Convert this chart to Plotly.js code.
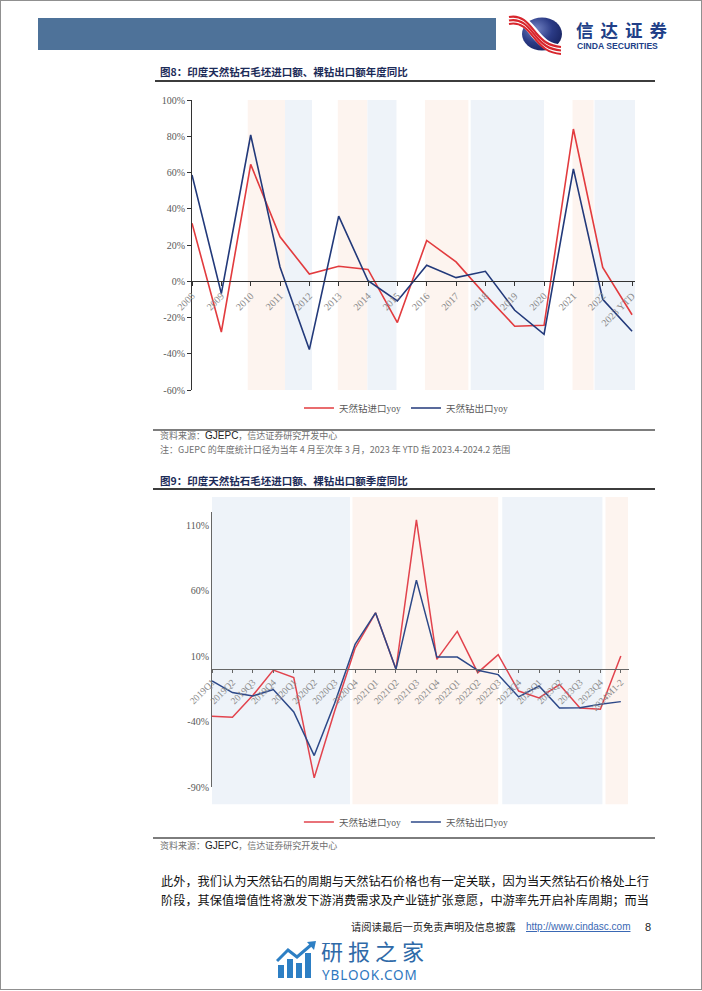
<!DOCTYPE html>
<html>
<head>
<meta charset="utf-8">
<script src="https://cdn.plot.ly/plotly-3.0.1.min.js"></script>
<style>
  html, body { margin:0; padding:0; background:#fff; }
  body { width:702px; height:991px; position:relative; overflow:hidden; font-family:"Noto Sans CJK SC", sans-serif; }
  .abs { position:absolute; white-space:nowrap; line-height:1; }
  .frame { position:absolute; left:0; top:0; width:702px; height:990px; box-sizing:border-box; border:1.5px solid #909090; }
  .hbar { position:absolute; left:38px; top:18px; width:458px; height:32px; background:#4e7299; }
  .ftitle { font-size:10.5px; font-weight:700; color:#1c2b58; }
  .rule { position:absolute; height:1.5px; background:#3c3c3c; }
  .sep { position:absolute; height:2px; background:#7d7d7d; }
  .src { font-size:9px; color:#707070; }
  .src b { font-family:"Liberation Sans", sans-serif; color:#222; font-weight:400; font-size:10px; }
  .para { font-size:12.2px; color:#111; width:488px; line-height:19px; text-align:justify; white-space:normal; text-align-last:justify; }
  #c1 { position:absolute; left:150px; top:85px; width:505px; height:340px; }
  #c2 { position:absolute; left:180px; top:490px; width:470px; height:345px; }
</style>
</head>
<body>
<div class="frame"></div>
<div class="hbar"></div>
<svg class="abs" style="left:506px;top:13px" width="60" height="42" viewBox="0 0 60 42">
  <defs>
    <radialGradient id="sph" cx="0.35" cy="0.35" r="0.75">
      <stop offset="0" stop-color="#7384c4"/>
      <stop offset="0.55" stop-color="#2b3b86"/>
      <stop offset="1" stop-color="#17225e"/>
    </radialGradient>
  </defs>
  <ellipse cx="36" cy="21" rx="20" ry="16.5" fill="url(#sph)"/>
  <path d="M3,6 C17,3 24,15 30,22 C36,29 42,35 55,36" fill="none" stroke="#fff" stroke-width="9"/>
  <path d="M3,4 C17,1 24,13 30,20 C36,27 42,33 55,34" fill="none" stroke="#d8262d" stroke-width="2.2"/>
  <path d="M3,7.5 C17,4.5 24,16.5 30,23.5 C36,30.5 42,36.5 55,37.5" fill="none" stroke="#d8262d" stroke-width="2.2"/>
  <path d="M3,11 C17,8 24,20 30,27 C36,34 42,40 55,41" fill="none" stroke="#d8262d" stroke-width="2"/>
</svg>
<div class="abs" style="left:576px;top:21px;height:17px;line-height:17px;font-size:17.5px;font-weight:700;color:#213f88;letter-spacing:7px;">信达证券</div>
<div class="abs" style="left:577px;top:42px;font-size:8.6px;font-weight:700;color:#213f88;font-family:'Liberation Sans',sans-serif;">CINDA SECURITIES</div>

<div class="abs ftitle" style="left:160px;top:66.5px;">图8：印度天然钻石毛坯进口额、裸钻出口额年度同比</div>
<div class="rule" style="left:155px;top:80px;width:500px;"></div>
<div id="c1"></div>
<div class="sep" style="left:153px;top:429px;width:502px;"></div>
<div class="abs src" style="left:160px;top:431px;">资料来源：<b>GJEPC</b>，信达证券研究开发中心</div>
<div class="abs src" style="left:160px;top:445px;">注：GJEPC 的年度统计口径为当年 4 月至次年 3 月，2023 年 YTD 指 2023.4-2024.2 范围</div>

<div class="abs ftitle" style="left:160px;top:475.5px;">图9：印度天然钻石毛坯进口额、裸钻出口额季度同比</div>
<div class="rule" style="left:153px;top:488px;width:502px;"></div>
<div id="c2"></div>
<div class="sep" style="left:153px;top:836.5px;width:502px;"></div>
<div class="abs src" style="left:160px;top:841px;">资料来源：<b>GJEPC</b>，信达证券研究开发中心</div>

<div class="abs para" style="left:161px;top:872px;">此外，我们认为天然钻石的周期与天然钻石价格也有一定关联，因为当天然钻石价格处上行</div>
<div class="abs para" style="left:161px;top:891px;">阶段，其保值增值性将激发下游消费需求及产业链扩张意愿，中游率先开启补库周期；而当</div>

<div class="abs" style="left:351px;top:922px;font-size:10.3px;color:#222;">请阅读最后一页免责声明及信息披露</div>
<div class="abs" style="left:526px;top:922px;font-size:10px;color:#3a68b4;text-decoration:underline;font-family:'Liberation Sans',sans-serif;">http://www.cindasc.com</div>
<div class="abs" style="left:645px;top:921.5px;font-size:11px;color:#222;font-family:'Liberation Sans',sans-serif;">8</div>

<svg class="abs" style="left:276px;top:941px" width="42" height="38" viewBox="0 0 42 38">
  <rect x="2" y="24" width="6" height="13" fill="#2d7fc4"/>
  <rect x="11" y="18" width="6" height="19" fill="#2d7fc4"/>
  <rect x="20" y="22" width="6" height="15" fill="#2d7fc4"/>
  <rect x="29" y="12" width="6" height="25" fill="#2d7fc4"/>
  <polyline points="1,20 12,9 21,16 35,4" fill="none" stroke="#2d7fc4" stroke-width="3"/>
  <polygon points="31,1 40,0 38,9" fill="#2d7fc4"/>
</svg>
<div class="abs" style="left:321px;top:939px;height:22px;line-height:22px;font-size:22px;color:#2f6aa8;letter-spacing:5px;">研报之家</div>
<div class="abs" style="left:322px;top:969px;font-size:13.5px;color:#2f78bf;letter-spacing:0.9px;font-family:'Noto Sans',sans-serif;">YBLOOK.COM</div>

<script>
// ---------- Figure 8: annual YoY ----------
const years = ['2008','2009','2010','2011','2012','2013','2014','2015','2016','2017','2018','2019','2020','2021','2022','2023 YTD'];
const importYoYAnnual = [32, -28, 64.5, 24.5, 4, 8.3, 6.5, -22.8, 22.5, 10.7, -7.5, -24.8, -24.3, 84, 7.6, -18.5];
const exportYoYAnnual = [58.6, -6.8, 80.7, 7.9, -37.7, 35.9, 0.3, -10.9, 8.8, 2, 5.5, -16, -29.3, 62, -10, -27.6];
const yTickVals1 = [-60, -40, -20, 0, 20, 40, 60, 80, 100];
const yTickText1 = ['-60%', '-40%', '-20%', '0%', '20%', '40%', '60%', '80%', '100%'];
// shaded cycle periods (category index ranges)
const upBandsAnnual = [[1.9, 3.17], [4.97, 5.98], [7.94, 9.42], [12.97, 13.69]];
const downBandsAnnual = [[3.17, 4.09], [5.98, 6.97], [9.5, 12.0], [13.72, 15.1]];

// ---------- Figure 9: quarterly YoY ----------
const quarters = ['2019Q1','2019Q2','2019Q3','2019Q4','2020Q1','2020Q2','2020Q3','2020Q4','2021Q1','2021Q2','2021Q3','2021Q4','2022Q1','2022Q2','2022Q3','2022Q4','2023Q1','2023Q2','2023Q3','2023Q4','2024M1-2'];
const importYoYQuarter = [-36, -36.7, -20, -0.7, -6.5, -83, -32, 16, 43, 0, 114, 7.5, 28.8, -2.7, 11, -16.7, -22, -11.8, -29.6, -30.6, 10];
const exportYoYQuarter = [-9, -17.9, -20.5, -15.6, -32.7, -66, -26, 19, 43, 0, 68, 9.2, 9.2, -0.9, -4.2, -21.2, -12.9, -29.6, -29.4, -26.8, -24.8];
const yTickVals2 = [-90, -40, 10, 60, 110];
const yTickText2 = ['-90%', '-40%', '10%', '60%', '110%'];
const downBandsQuarter = [[-0.2, 6.75], [14.2, 19.1]];
const upBandsQuarter = [[6.87, 14.0], [19.25, 20.35]];

const seriesNames = ['天然钻进口yoy', '天然钻出口yoy'];
const PINK = '#fdf4ef', BLUE = '#eef3f9';
const serif = '"Liberation Serif", "Noto Sans CJK SC", serif';

function bandShapes(bands, color, yref, y0, y1) {
  return bands.map(b => ({type:'rect', xref:'x', yref:yref, x0:b[0], x1:b[1], y0:y0, y1:y1,
    fillcolor:color, line:{width:0}, layer:'below'}));
}

// Chart 1
const t1 = [
  {x: years, y: importYoYAnnual, name: seriesNames[0], type:'scatter', mode:'lines', line:{color:'#e23b3e', width:1.6}},
  {x: years, y: exportYoYAnnual, name: seriesNames[1], type:'scatter', mode:'lines', line:{color:'#22397a', width:1.6}}
];
const l1 = {
  width:505, height:340,
  margin:{l:42, r:20, t:15, b:35, pad:0, autoexpand:false},
  paper_bgcolor:'rgba(0,0,0,0)', plot_bgcolor:'rgba(0,0,0,0)',
  showlegend:true,
  legend:{orientation:'h', x:0.483, xanchor:'center', yref:'container', y:0.05, yanchor:'middle',
    font:{family:serif, size:9.5, color:'#595959'}, itemwidth:30, bgcolor:'rgba(0,0,0,0)'},
  xaxis:{type:'category', range:[0, 15.1], anchor:'free', position:0.375,
    showline:true, linecolor:'#333', linewidth:1, showgrid:false, zeroline:false,
    ticks:'outside', ticklen:4, tickcolor:'#333', tickangle:-45,
    tickfont:{family:serif, size:10, color:'#8a8a8a'}},
  yaxis:{range:[-60, 100], domain:[0,1], tickmode:'array', tickvals:yTickVals1, ticktext:yTickText1,
    showline:true, linecolor:'#333', linewidth:1, showgrid:false, zeroline:false,
    ticks:'outside', ticklen:4, tickcolor:'#333',
    tickfont:{family:serif, size:10, color:'#595959'}},
  shapes: [].concat(bandShapes(upBandsAnnual, PINK, 'y', -60, 100), bandShapes(downBandsAnnual, BLUE, 'y', -60, 100))
};
Plotly.newPlot('c1', t1, l1, {staticPlot:true, displayModeBar:false});

// Chart 2
const t2 = [
  {x: quarters, y: importYoYQuarter, name: seriesNames[0], type:'scatter', mode:'lines', line:{color:'#e2434d', width:1.5}},
  {x: quarters, y: exportYoYQuarter, name: seriesNames[1], type:'scatter', mode:'lines', line:{color:'#2c4888', width:1.5}}
];
const l2 = {
  width:470, height:345,
  margin:{l:31.7, r:20.7, t:21.7, b:48.3, pad:0, autoexpand:false},
  paper_bgcolor:'rgba(0,0,0,0)', plot_bgcolor:'rgba(0,0,0,0)',
  showlegend:true,
  legend:{orientation:'h', x:0.465, xanchor:'center', yref:'container', y:0.038, yanchor:'middle',
    font:{family:serif, size:9.5, color:'#595959'}, itemwidth:30, bgcolor:'rgba(0,0,0,0)'},
  xaxis:{type:'category', range:[0, 20.4], anchor:'free', position:90/210,
    showline:true, linecolor:'#666', linewidth:1, showgrid:false, zeroline:false,
    ticks:'outside', ticklen:3, tickcolor:'#666', tickangle:-45,
    tickfont:{family:serif, size:9.5, color:'#8a8a8a'}},
  yaxis:{range:[-90, 120], domain:[0,1], tickmode:'array', tickvals:yTickVals2, ticktext:yTickText2,
    showline:true, linecolor:'#666', linewidth:1, showgrid:false, zeroline:false, ticks:'',
    tickfont:{family:serif, size:10, color:'#595959'}},
  shapes: [].concat(bandShapes(downBandsQuarter, BLUE, 'paper', -0.063, 1.0545), bandShapes(upBandsQuarter, PINK, 'paper', -0.063, 1.0545))
};
Plotly.newPlot('c2', t2, l2, {staticPlot:true, displayModeBar:false});
</script>
</body>
</html>
